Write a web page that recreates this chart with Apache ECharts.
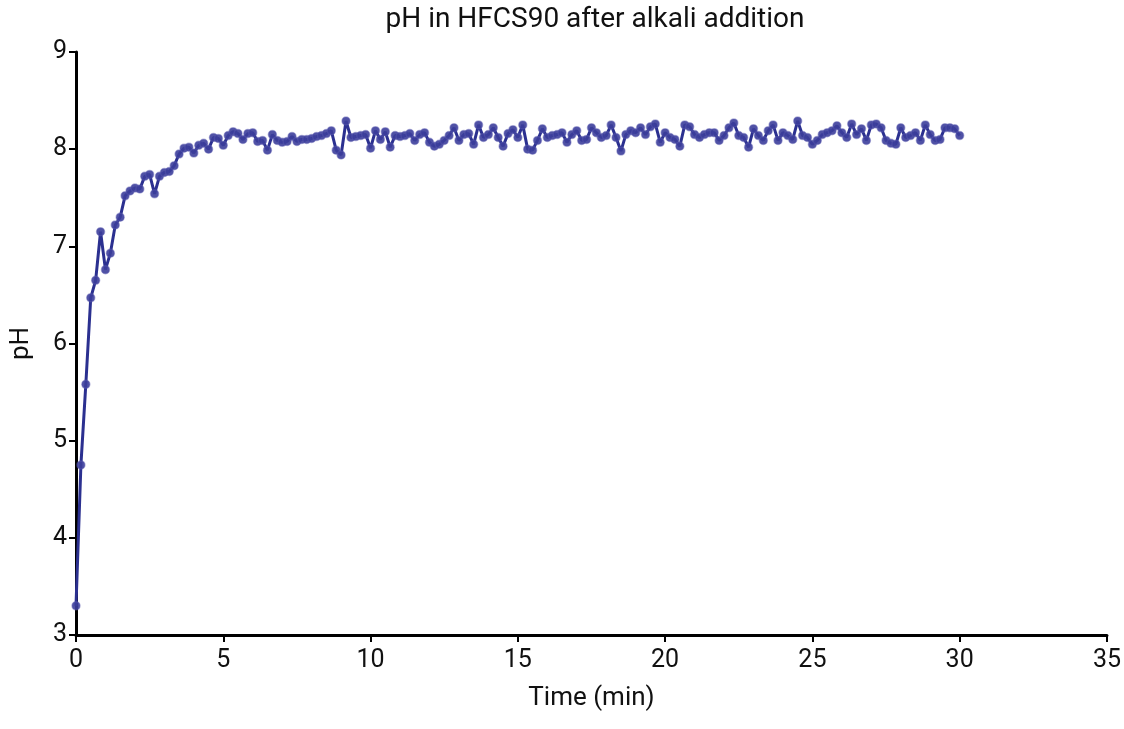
<!DOCTYPE html>
<html>
<head>
<meta charset="utf-8" />
<script src="https://cdn.jsdelivr.net/npm/echarts@6/dist/echarts.min.js"></script>
<style>
  html, body { margin: 0; padding: 0; background: #fff; }
  #chart { width: 1124px; height: 729px; }
</style>
</head>
<body>
<div id="chart"></div>
<script>
const chartTitle = "pH in HFCS90 after alkali addition";
const xAxisName = "Time (min)";
const yAxisName = "pH";

// readings were logged every 10 s
const sampleSeconds = 10;

// pH readings, one per sample
const phValues = [
  3.30, 4.75, 5.58, 6.47, 6.65, 7.15, 6.76, 6.93, 7.22, 7.30,
  7.52, 7.57, 7.60, 7.59, 7.72, 7.74, 7.54, 7.72, 7.76, 7.77,
  7.83, 7.95, 8.01, 8.02, 7.96, 8.04, 8.06, 8.00, 8.12, 8.11,
  8.04, 8.14, 8.18, 8.16, 8.10, 8.16, 8.17, 8.08, 8.09, 7.99,
  8.15, 8.09, 8.07, 8.08, 8.13, 8.08, 8.10, 8.10, 8.11, 8.13,
  8.14, 8.16, 8.19, 7.99, 7.94, 8.29, 8.12, 8.13, 8.14, 8.15,
  8.01, 8.19, 8.10, 8.18, 8.02, 8.14, 8.13, 8.14, 8.16, 8.09,
  8.15, 8.17, 8.07, 8.03, 8.05, 8.09, 8.14, 8.22, 8.09, 8.15,
  8.16, 8.05, 8.25, 8.12, 8.15, 8.22, 8.12, 8.03, 8.16, 8.20,
  8.12, 8.25, 8.00, 7.99, 8.09, 8.21, 8.12, 8.14, 8.15, 8.17,
  8.07, 8.15, 8.19, 8.09, 8.10, 8.22, 8.17, 8.12, 8.14, 8.25,
  8.12, 7.98, 8.15, 8.19, 8.17, 8.22, 8.15, 8.23, 8.26, 8.07,
  8.17, 8.12, 8.10, 8.03, 8.25, 8.23, 8.15, 8.12, 8.15, 8.17,
  8.17, 8.09, 8.14, 8.22, 8.27, 8.14, 8.12, 8.02, 8.21, 8.14,
  8.09, 8.19, 8.25, 8.09, 8.17, 8.14, 8.10, 8.29, 8.14, 8.12,
  8.05, 8.09, 8.15, 8.17, 8.19, 8.24, 8.17, 8.12, 8.26, 8.15,
  8.21, 8.09, 8.25, 8.26, 8.22, 8.09, 8.06, 8.05, 8.22, 8.12,
  8.14, 8.17, 8.09, 8.25, 8.15, 8.09, 8.10, 8.22, 8.22, 8.21,
  8.14
];

const xTicks = { min: 0, max: 35, interval: 5 };
const yTicks = { min: 3, max: 9, interval: 1 };

const seriesData = phValues.map((v, i) => [(i * sampleSeconds) / 60, v]);

const chart = echarts.init(document.getElementById("chart"));

const axisFont = { fontFamily: "Roboto", fontSize: 25, color: "#111" };

const option = {
  animation: false,
  title: {
    text: chartTitle,
    // centred over the plot area, not the page
    left: 590,
    textAlign: "center",
    top: 1,
    textStyle: { fontFamily: "Roboto", fontSize: 28, fontWeight: "normal", color: "#111" },
  },
  grid: {
    left: 74,
    right: 17,
    top: 52,
    bottom: 94,
    containLabel: false,
  },
  xAxis: {
    type: "value",
    min: xTicks.min,
    max: xTicks.max,
    interval: xTicks.interval,
    name: xAxisName,
    nameLocation: "middle",
    nameGap: 50,
    nameTextStyle: { ...axisFont, fontSize: 26 },
    axisLine: { lineStyle: { color: "#000", width: 3 } },
    axisTick: { show: true, length: 7, lineStyle: { color: "#000", width: 2 } },
    axisLabel: { ...axisFont, margin: 13 },
    splitLine: { show: false },
  },
  yAxis: {
    type: "value",
    min: yTicks.min,
    max: yTicks.max,
    interval: yTicks.interval,
    name: yAxisName,
    nameLocation: "middle",
    nameGap: 42,
    nameRotate: 90,
    nameTextStyle: { ...axisFont, fontSize: 26 },
    axisLine: { show: true, lineStyle: { color: "#000", width: 3 } },
    axisTick: { show: true, length: 7, lineStyle: { color: "#000", width: 2 } },
    axisLabel: { ...axisFont, margin: 9 },
    splitLine: { show: false },
  },
  series: [
    {
      name: "pH",
      type: "line",
      data: seriesData,
      symbol: "circle",
      symbolSize: 8,
      showAllSymbol: true,
      lineStyle: { color: "#2b3090", width: 3 },
      itemStyle: { color: "rgba(60, 62, 155, 0.9)", borderColor: "rgba(90, 92, 175, 0.45)", borderWidth: 1.5 },
    },
  ],
};

chart.setOption(option);
</script>
</body>
</html>
